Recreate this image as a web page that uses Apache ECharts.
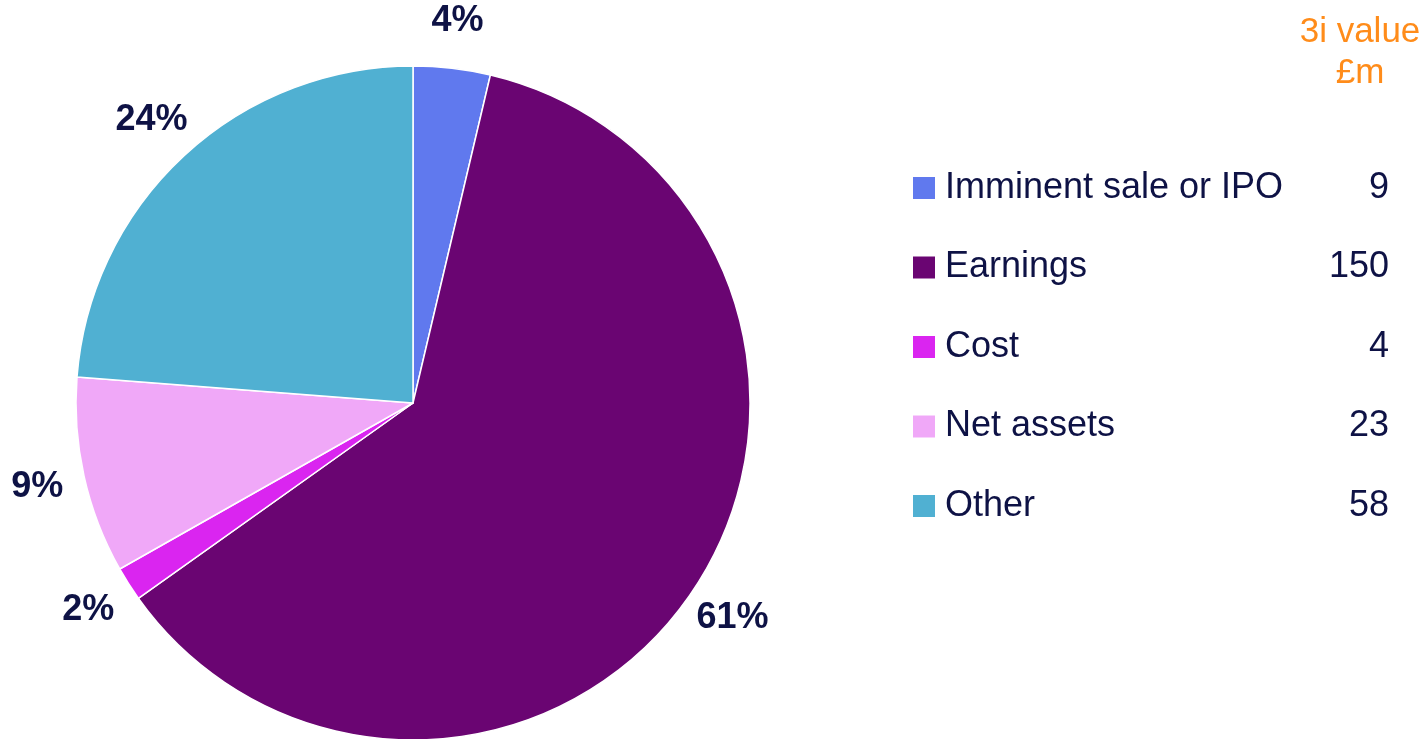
<!DOCTYPE html>
<html>
<head>
<meta charset="utf-8">
<script src="https://cdn.jsdelivr.net/npm/echarts@6/dist/echarts.min.js"></script>
<style>
    html, body { margin: 0; padding: 0; background: #fff; }
    #chart { width: 1428px; height: 739px; }
</style>
</head>
<body>
<div id="chart"></div>
<script>
    //  valuation basis, 3i value £m
    var categories = ['Imminent sale or IPO', 'Earnings', 'Cost', 'Net assets', 'Other'];
    var values = [9, 150, 4, 23, 58];
    var colors = ['#6079ee', '#6a0572', '#da25f0', '#f0a8f8', '#50b0d2'];

    var total = values.reduce(function (a, b) { return a + b; }, 0);
    var pieData = categories.map(function (name, i) {
        return {name: name, value: values[i], itemStyle: {color: colors[i]}};
    });

    var chart = echarts.init(document.getElementById('chart'));
    var option = {
        animation: false,
        graphic: [{
            type: 'text',
            x: 1360,
            y: 12,
            style: {
                text: '3i value\n£m',
                fill: '#ff8c1a',
                font: '35px "Liberation Sans", Arial, sans-serif',
                align: 'center',
                verticalAlign: 'top',
                lineHeight: 41
            }
        }],
        legend: {
            orient: 'vertical',
            left: 911,
            top: 170,
            padding: 0,
            itemWidth: 24,
            itemHeight: 24,
            itemGap: 43.5,
            icon: 'rect',
            selectedMode: false,
            data: categories,
            formatter: function (name) {
                return '{n|' + name + '}{v|' + values[categories.indexOf(name)] + '}';
            },
            textStyle: {
                rich: {
                    n: {
                        width: 376,
                        padding: [0, 0, 0, 4],
                        fontSize: 36,
                        lineHeight: 30,
                        color: '#0e1245',
                        fontFamily: '"Liberation Sans", Arial, sans-serif'
                    },
                    v: {
                        width: 68,
                        align: 'right',
                        fontSize: 36,
                        lineHeight: 30,
                        color: '#0e1245',
                        fontFamily: '"Liberation Sans", Arial, sans-serif'
                    }
                }
            }
        },
        series: [
            {
                name: 'Valuation basis',
                type: 'pie',
                radius: [0, 337],
                center: [413, 403],
                startAngle: 90,
                clockwise: true,
                silent: true,
                label: {show: false},
                labelLine: {show: false},
                itemStyle: {borderColor: '#fff', borderWidth: 1.5},
                data: pieData
            },
            {
                //  透明层，用于放置百分比标签
                name: 'labels',
                type: 'pie',
                radius: [0, 764],
                center: [413, 403],
                startAngle: 90,
                clockwise: true,
                silent: true,
                itemStyle: {color: 'rgba(0,0,0,0)'},
                label: {
                    show: true,
                    position: 'inside',
                    formatter: function (p) {
                        return Math.round(p.value / total * 100) + '%';
                    },
                    color: '#0e1245',
                    fontSize: 36,
                    fontWeight: 'bold',
                    fontFamily: '"Liberation Sans", Arial, sans-serif'
                },
                labelLine: {show: false},
                data: categories.map(function (name, i) {
                    return {name: name, value: values[i]};
                })
            }
        ]
    };
    chart.setOption(option);

    window.addEventListener('resize', function () {
        chart.resize();
    });
</script>
</body>
</html>
